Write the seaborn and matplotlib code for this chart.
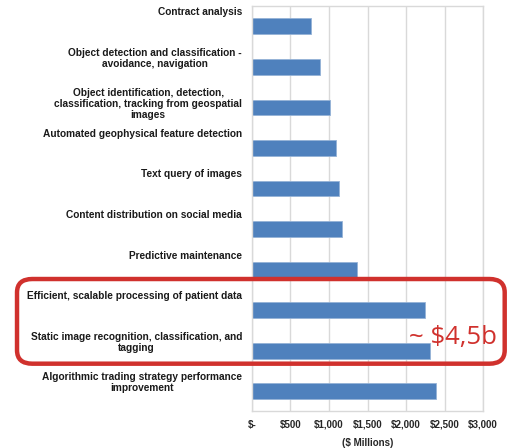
import matplotlib
matplotlib.use('Agg')
import matplotlib.pyplot as plt
import seaborn as sns
from matplotlib.patches import FancyBboxPatch

# 数据
categories = [
    'Contract analysis',
    'Object detection and classification -\navoidance, navigation',
    'Object identification, detection,\nclassification, tracking from geospatial\nimages',
    'Automated geophysical feature detection',
    'Text query of images',
    'Content distribution on social media',
    'Predictive maintenance',
    'Efficient, scalable processing of patient data',
    'Static image recognition, classification, and\ntagging',
    'Algorithmic trading strategy performance\nimprovement',
]
revenue = [760, 880, 1010, 1085, 1130, 1170, 1360, 2250, 2315, 2390]
tick_values = [0, 500, 1000, 1500, 2000, 2500, 3000]
tick_labels = ['$-', '$500', '$1,000', '$1,500', '$2,000', '$2,500', '$3,000']
callout = '~ $4,5b'

BLUE = '#4f81bd'
RED = '#d0312d'
GRID = '#d9d9d9'

sns.set_style('white')
plt.rcParams['font.family'] = ['Liberation Sans', 'DejaVu Sans']

fig = plt.figure(figsize=(5.08, 4.48), dpi=100)
ax = fig.add_axes([0.496, 0.0815, 0.455, 0.905])

sns.barplot(x=revenue, y=list(range(len(categories))), orient='h', color=BLUE,
            width=0.39, edgecolor='#95b3d7', linewidth=0.6, saturation=1, ax=ax)

ax.set_xlim(0, 3000)
ax.set_ylim(len(categories) - 0.5, -0.5)
ax.set_xticks(tick_values)
ax.set_xticklabels(tick_labels, fontsize=7, fontweight='bold')
ax.tick_params(axis='x', length=0, pad=6)
ax.set_yticks([])
ax.set_ylabel('')
ax.set_xlabel('($ Millions)', fontsize=7, fontweight='bold', labelpad=6)
ax.set_axisbelow(True)
ax.grid(axis='x', color=GRID, linewidth=1)
for s in ax.spines.values():
    s.set_color(GRID)
    s.set_linewidth(1)

# 类别标签：放在每个柱子上方，顶部对齐
for i, lab in enumerate(categories):
    ax.text(-0.043, i - 0.47, lab, transform=ax.get_yaxis_transform(),
            ha='right', va='top', multialignment='center',
            fontsize=7.3, fontweight='bold', linespacing=1.12, color='#1a1a1a')

# 红色标注框
box = FancyBboxPatch((0.0335, 0.1882), 0.96, 0.189,
                     boxstyle='round,pad=0,rounding_size=0.03',
                     transform=fig.transFigure, fill=False,
                     edgecolor=RED, linewidth=3.2, clip_on=False)
fig.patches.append(box)
fig.text(0.892, 0.247, callout, color=RED, fontsize=18.5,
         family=['Open Sans', 'DejaVu Sans'], ha='center', va='center')

plt.savefig('out.png', dpi=100)
plt.close()
